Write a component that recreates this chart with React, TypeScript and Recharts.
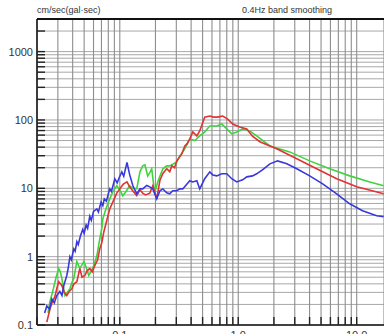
import { LineChart, Line, XAxis, YAxis, CartesianGrid, ReferenceLine } from "recharts";

// frequency (Hz) / amplitude (cm/sec)
const BLUE_F = [0.0232, 0.0242, 0.0255, 0.0267, 0.028, 0.0294, 0.0312, 0.0325, 0.0337, 0.0357, 0.0368, 0.0379, 0.039, 0.0409, 0.042, 0.0434, 0.0446, 0.0465, 0.0487, 0.05, 0.052, 0.0535, 0.0558, 0.0575, 0.06, 0.064, 0.066, 0.0695, 0.0719, 0.074, 0.077, 0.0823, 0.085, 0.0908, 0.095, 0.1, 0.104, 0.108, 0.115, 0.121, 0.129, 0.139, 0.148, 0.156, 0.169, 0.179, 0.19, 0.205, 0.218, 0.231, 0.249, 0.264, 0.28, 0.303, 0.321, 0.34, 0.39, 0.413, 0.447, 0.473, 0.521, 0.575, 0.61, 0.659, 0.726, 0.8, 0.881, 0.971, 1.09, 1.18, 1.32, 1.43, 1.6, 1.85, 2.15, 2.57, 3.12, 4.01, 5.16, 6.78, 8.73, 11.2, 14.75, 16.9];
const BLUE_V = [0.15, 0.19, 0.17, 0.24, 0.21, 0.27, 0.31, 0.27, 0.38, 0.53, 0.7, 1.0, 0.9, 1.3, 1.2, 1.66, 1.5, 2.0, 2.5, 2.2, 2.9, 2.6, 3.9, 3.4, 4.6, 5.0, 4.5, 6.3, 5.6, 7.0, 6.5, 9.8, 9.0, 13.8, 12, 15, 17.4, 15, 24, 16, 10.9, 8.3, 9.8, 9.8, 11, 10.5, 9.8, 7.0, 9.2, 9.8, 8.6, 8.3, 9.2, 9.2, 9.8, 9.8, 12.9, 12.4, 12.9, 9.8, 13.8, 17.4, 15.7, 15.2, 16.3, 16.3, 13.8, 12.4, 13.3, 14.7, 15.2, 16.3, 18.6, 22.8, 25.2, 22.8, 19.3, 15.2, 11.6, 8.3, 5.94, 4.69, 3.97, 3.84];

const RED_F = [0.0242, 0.0257, 0.027, 0.0283, 0.0295, 0.0305, 0.0324, 0.034, 0.0357, 0.0375, 0.0394, 0.041, 0.0434, 0.046, 0.048, 0.0507, 0.053, 0.0558, 0.0585, 0.0615, 0.065, 0.0678, 0.0705, 0.0733, 0.078, 0.0823, 0.088, 0.0943, 0.1, 0.107, 0.115, 0.121, 0.13, 0.139, 0.148, 0.156, 0.165, 0.179, 0.19, 0.197, 0.205, 0.218, 0.231, 0.249, 0.264, 0.275, 0.29, 0.303, 0.334, 0.354, 0.37, 0.39, 0.413, 0.447, 0.473, 0.5, 0.521, 0.575, 0.62, 0.659, 0.7, 0.74, 0.815, 0.899, 1.03, 1.18, 1.32, 1.52, 2.11, 3.12, 4.59, 6.78, 10, 16.9];
const RED_V = [0.11, 0.17, 0.22, 0.26, 0.35, 0.43, 0.38, 0.3, 0.27, 0.31, 0.34, 0.4, 0.43, 0.67, 0.5, 0.53, 0.62, 0.67, 0.6, 0.74, 0.9, 1.31, 1.6, 2.3, 3.5, 5.0, 6.5, 8.5, 9.8, 11.5, 12.4, 10.5, 9.0, 7.8, 9.5, 8.5, 8.0, 8.5, 10.9, 9.0, 7.0, 13.0, 16.5, 19.3, 17.5, 21.3, 20, 25.2, 31.9, 41.7, 45, 52.8, 66.8, 58.4, 69.1, 90, 110, 114, 110, 110, 112, 114, 103, 87, 79, 74, 58, 48, 38, 27, 19.3, 13.8, 10.5, 8.3];

const GREEN_F = [0.0248, 0.0257, 0.0267, 0.0275, 0.029, 0.0305, 0.0315, 0.0324, 0.0344, 0.036, 0.0379, 0.0395, 0.0409, 0.0434, 0.046, 0.0497, 0.052, 0.0547, 0.0575, 0.0604, 0.064, 0.0678, 0.0705, 0.0719, 0.077, 0.0823, 0.0873, 0.0943, 0.1, 0.106, 0.113, 0.121, 0.129, 0.139, 0.148, 0.156, 0.163, 0.172, 0.179, 0.186, 0.197, 0.209, 0.218, 0.231, 0.249, 0.264, 0.28, 0.303, 0.321, 0.354, 0.39, 0.43, 0.473, 0.521, 0.575, 0.659, 0.726, 0.8, 0.881, 0.971, 1.09, 1.25, 1.43, 1.85, 2.72, 4.01, 5.92, 8.73, 12.9, 16.9];
const GREEN_V = [0.15, 0.22, 0.28, 0.34, 0.5, 0.67, 0.6, 0.48, 0.27, 0.3, 0.34, 0.42, 0.48, 0.85, 0.67, 0.85, 0.7, 0.53, 0.62, 0.74, 1.03, 1.83, 2.56, 3.59, 5.2, 7.0, 8.9, 10.9, 9.5, 7.8, 9.0, 10.9, 10, 9.8, 17.4, 21.3, 22, 15.2, 17, 19.3, 8.5, 12.4, 15, 19.3, 21.3, 21.3, 22.5, 24.4, 29.8, 37.7, 52.8, 50, 58.4, 66.8, 81.7, 81.7, 87.4, 73.9, 62.5, 66.8, 73.9, 69.1, 58.4, 41.7, 34.1, 25.2, 19.3, 15.2, 12.4, 10.9];

const X_TICKS = [0.02, 0.03, 0.04, 0.05, 0.06, 0.07, 0.08, 0.09, 0.1, 0.2, 0.3, 0.4, 0.5, 0.6, 0.7, 0.8, 0.9, 1, 2, 3, 4, 5, 6, 7, 8, 9, 10];
const X_MAJOR = [0.1, 1, 10];
const X_LABELS = ["0.1", "1.0", "10.0"];

const Y_TICKS = [0.1, 0.2, 0.3, 0.4, 0.5, 0.6, 0.7, 0.8, 0.9, 1, 2, 3, 4, 5, 6, 7, 8, 9, 10, 20, 30, 40, 50, 60, 70, 80, 90, 100, 200, 300, 400, 500, 600, 700, 800, 900, 1000, 2000];
const Y_MAJOR = [0.1, 1, 10, 100, 1000];
const Y_LABELS = ["0.1", "1", "10", "100", "1000"];

const zip = (f: number[], v: number[]) => f.map((x, i) => ({ f: x, v: v[i] }));
const blue = zip(BLUE_F, BLUE_V);
const red = zip(RED_F, RED_V);
const green = zip(GREEN_F, GREEN_V);

const FONT = "'Liberation Sans', Arial, sans-serif";

function XTick(props: any) {
  const { x, y, payload } = props;
  const i = X_MAJOR.indexOf(payload.value);
  return (
    <g>
      <line x1={x} x2={x} y1={y} y2={y - 8} stroke="#222" strokeWidth={1.4} />
      {i >= 0 && (
        <text x={x} y={y + 14} textAnchor="middle" fontSize={11} fill="#333" fontFamily={FONT}>
          {X_LABELS[i]}
        </text>
      )}
    </g>
  );
}

function YTick(props: any) {
  const { x, y, payload } = props;
  const i = Y_MAJOR.indexOf(payload.value);
  return (
    <g>
      <line x1={x + 4} x2={x + 12} y1={y} y2={y} stroke="#222" strokeWidth={1.4} />
      {i >= 0 && (
        <text x={x} y={y + 4} textAnchor="end" fontSize={11} fill="#333" fontFamily={FONT}>
          {Y_LABELS[i]}
        </text>
      )}
    </g>
  );
}

export default function App() {
  return (
    <div style={{ position: "fixed", left: 0, top: 0, width: 384, height: 334, background: "#fff", overflow: "hidden" }}>
      <div style={{ position: "absolute", left: 37, top: 5, fontSize: 9, lineHeight: "10px", fontFamily: FONT, color: "#333" }}>
        cm/sec(gal·sec)
      </div>
      <div style={{ position: "absolute", left: 242, top: 5, fontSize: 9, lineHeight: "10px", fontFamily: FONT, color: "#333" }}>
        0.4Hz band smoothing
      </div>
      <LineChart width={384} height={334} margin={{ top: 19, right: 0, bottom: 0, left: 0 }}>
        <CartesianGrid stroke="#a8a8a8" strokeWidth={1} vertical={false} />
        <CartesianGrid stroke="#8e8e8e" strokeWidth={1.1} horizontal={false} />
        <XAxis
          dataKey="f" type="number" scale="log" domain={[0.02, 17]} allowDataOverflow
          ticks={X_TICKS} interval={0} height={9} tickSize={0} tickMargin={0}
          tick={<XTick />} tickLine={false}
          axisLine={{ stroke: "#111", strokeWidth: 1.5 }}
        />
        <YAxis
          dataKey="v" type="number" scale="log" domain={[0.1, 3000]} allowDataOverflow
          ticks={Y_TICKS} interval={0} width={37} tickSize={0} tickMargin={4}
          tick={<YTick />} tickLine={false}
          axisLine={{ stroke: "#111", strokeWidth: 1.5 }}
        />
        <ReferenceLine y={3000} stroke="#111" strokeWidth={2} />
        <Line data={green} dataKey="v" type="linear" stroke="#3ed43e" strokeWidth={1.6} dot={false} isAnimationActive={false} />
        <Line data={red} dataKey="v" type="linear" stroke="#e03434" strokeWidth={1.6} dot={false} isAnimationActive={false} />
        <Line data={blue} dataKey="v" type="linear" stroke="#3838dc" strokeWidth={1.6} dot={false} isAnimationActive={false} />
      </LineChart>
    </div>
  );
}
